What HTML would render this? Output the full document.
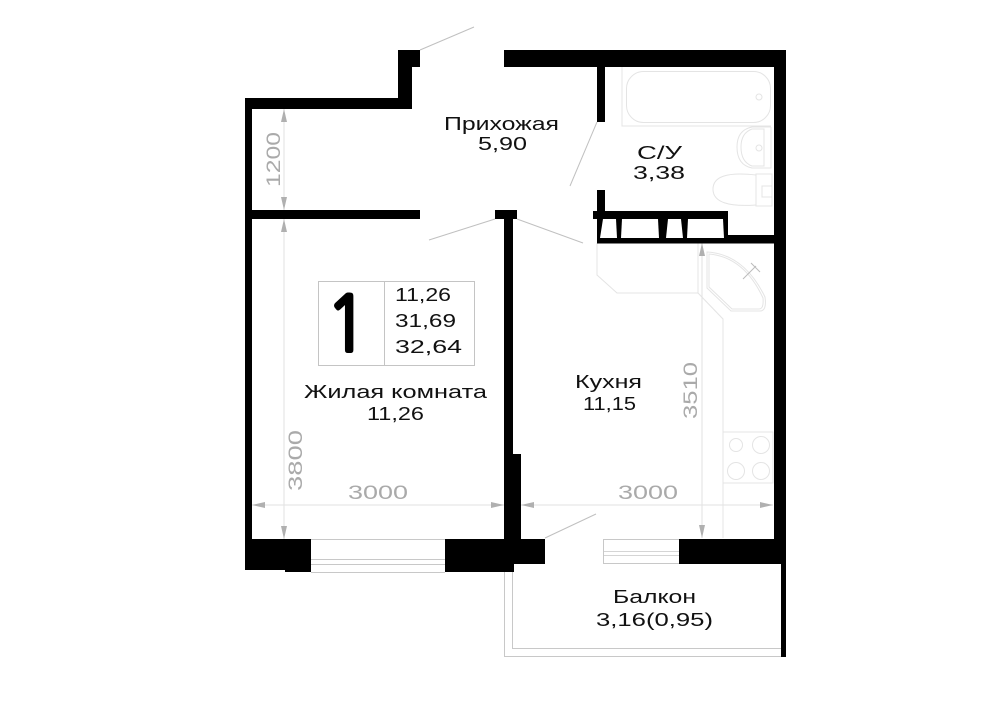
<!DOCTYPE html>
<html><head><meta charset="utf-8"><style>
html,body{margin:0;padding:0;background:#fff}
svg{display:block}
text{font-family:"Liberation Sans","DejaVu Sans",sans-serif;fill:#111;font-size:18px}
.d{fill:#aaa;font-size:19px}
.f{fill:none;stroke:#e4e4e4;stroke-width:1}
.a{fill:#b0b0b0}
.l{stroke:#c0c0c0;stroke-width:1;fill:none}
</style></head><body>
<svg width="1000" height="707" viewBox="0 0 1000 707" xmlns="http://www.w3.org/2000/svg">
<rect width="1000" height="707" fill="#fff"/>
<!-- fixtures -->
<g class="f">
<path d="M622 67V126H771"/><rect x="626.500" y="71.500" width="144" height="51" rx="17"/><circle cx="759" cy="97" r="3"/>
<path d="M771 127H752Q737 130 737 147Q737 165 752 168H771V127"/><path d="M764 129V166H752Q741 162 741 147Q741 133 752 129Z"/><circle cx="759" cy="148" r="3"/>
<path d="M756 174H772V206H756Z"/><path d="M756 175Q712 170 713 190Q714 208 756 205Z"/><path d="M762 186H772V197H762Z"/>
<path d="M597 243V275L617 293H698V243"/><path d="M698 293L723 319V538"/>
<path d="M707 252Q744 254 765 297Q767 311 760 311H731L707 288Z"/><path d="M709 254Q744 257 763 298Q764 309 759 309H732L709 287Z"/>
<path d="M743 279L756 266M751 263L760 272" stroke="#bbb"/>
<rect x="723" y="432" width="50" height="51"/><circle cx="736" cy="445" r="6.500"/><circle cx="761" cy="445" r="8.500"/><circle cx="736" cy="471" r="8.500"/><circle cx="761" cy="471" r="8.500"/>
</g>
<!-- dimensions -->
<g stroke="#e2e2e2" stroke-width="1" fill="none">
<path d="M252 505H504M521 505H773"/><path d="M284 109V210M284 219V539M702 243V538"/>
</g>
<g class="a">
<path d="M252 505L265 502V508Z"/><path d="M504 505L491 502V508Z"/><path d="M521 505L534 502V508Z"/><path d="M773 505L760 502V508Z"/>
<path d="M284 109L281 122H287Z"/><path d="M284 210L281 197H287Z"/><path d="M284 219L281 232H287Z"/><path d="M284 539L281 526H287Z"/>
<path d="M702 243L699 256H705Z"/><path d="M702 538L699 525H705Z"/>
</g>
<!-- doors -->
<g class="l">
<path d="M420 50L474 27"/><path d="M429 240L495 219"/><path d="M517 219L583 243"/><path d="M570 186L597 122"/><path d="M545 538L596 514"/>
</g>
<!-- windows and balcony -->
<g stroke="#c8c8c8" fill="none">
<path d="M311 539.500H445M311 559.500H445M311 564.500H445M311 572.500H445"/>
<rect x="603.500" y="539.500" width="76" height="24"/><path d="M603 555.500H679M603 551.500H679" stroke-width=".8"/>
<path d="M504.500 572V656.500H781M512.500 572V648.500H781"/>
</g>
<!-- walls -->
<g fill="#000">
<path d="M504 50H786V564H786V657H781V564H679V539H774V67H504Z"/>
<path d="M398 50H420V67H412V109H252V210H420V219H252V539H311V572H285V570H245V98H398Z"/>
<path d="M495 210H517V219H513V454H521V539H545V564H514V572H445V539H504V219H495Z"/>
<path d="M597 67H605V122H597Z"/>
<path d="M597 190H605V211H728V235H781V243.500H597V219H593V211H597Z"/>
</g>
<g fill="#fff">
<path d="M603 219H616L617 238H600Z"/><path d="M622 219H658L659 238H621Z"/><path d="M668 219H681L683 238H666Z"/><path d="M688 219H723L724 238H687Z"/>
</g>
<!-- table -->
<g stroke="#c4c4c4" fill="none"><rect x="318.500" y="281.500" width="156" height="84"/><path d="M384.500 281V365"/></g>
<text x="326" y="351" style="font-size:76px;font-family:'NanumGothic','IPAGothic',sans-serif;fill:#000;stroke:#000;stroke-width:4px" textLength="42" lengthAdjust="spacingAndGlyphs">1</text>
<text x="395" y="301" textLength="56" lengthAdjust="spacingAndGlyphs">11,26</text>
<text x="395" y="327" textLength="61" lengthAdjust="spacingAndGlyphs">31,69</text>
<text x="395" y="353" textLength="67" lengthAdjust="spacingAndGlyphs">32,64</text>
<!-- room labels -->
<text x="444" y="130" textLength="115" lengthAdjust="spacingAndGlyphs">Прихожая</text>
<text x="478" y="150" textLength="49" lengthAdjust="spacingAndGlyphs">5,90</text>
<text x="637" y="159" textLength="45" lengthAdjust="spacingAndGlyphs">С/У</text>
<text x="633" y="179" textLength="52" lengthAdjust="spacingAndGlyphs">3,38</text>
<text x="304" y="398" textLength="183" lengthAdjust="spacingAndGlyphs">Жилая комната</text>
<text x="367" y="420" textLength="57" lengthAdjust="spacingAndGlyphs">11,26</text>
<text x="575" y="388" textLength="67" lengthAdjust="spacingAndGlyphs">Кухня</text>
<text x="583" y="410" textLength="53" lengthAdjust="spacingAndGlyphs">11,15</text>
<text x="613" y="603" textLength="83" lengthAdjust="spacingAndGlyphs">Балкон</text>
<text x="596" y="626" textLength="117" lengthAdjust="spacingAndGlyphs">3,16(0,95)</text>
<!-- dimension labels -->
<text class="d" x="348" y="499" textLength="60" lengthAdjust="spacingAndGlyphs">3000</text>
<text class="d" x="618" y="499" textLength="60" lengthAdjust="spacingAndGlyphs">3000</text>
<text class="d" transform="translate(280,187) rotate(-90)" textLength="55" lengthAdjust="spacingAndGlyphs">1200</text>
<text class="d" transform="translate(302,491) rotate(-90)" textLength="61" lengthAdjust="spacingAndGlyphs">3800</text>
<text class="d" transform="translate(697,419) rotate(-90)" textLength="57" lengthAdjust="spacingAndGlyphs">3510</text>
</svg>
</body></html>
